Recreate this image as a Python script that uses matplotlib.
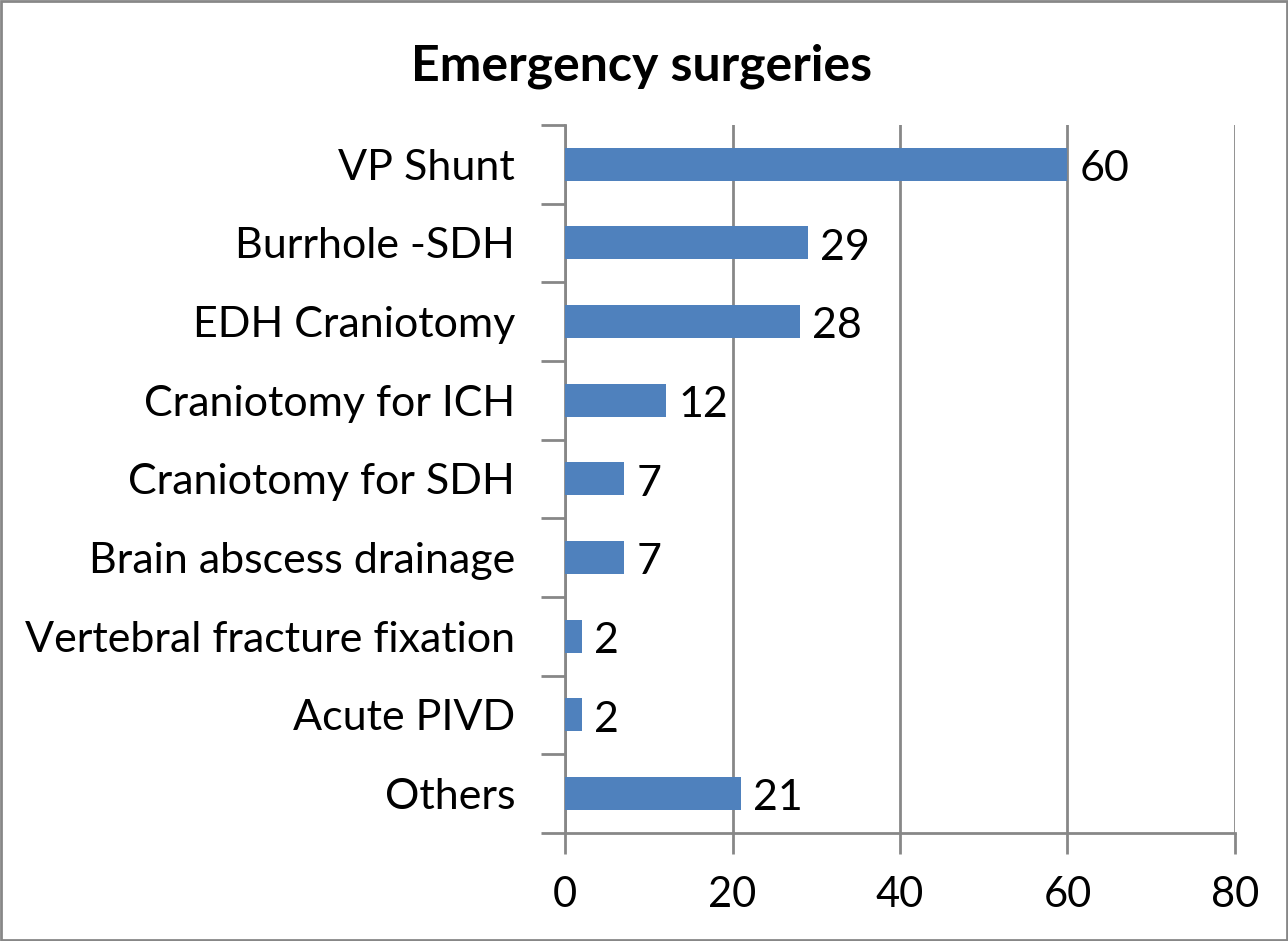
import matplotlib.pyplot as plt
from matplotlib.patches import Rectangle

# data
categories = ['VP Shunt', 'Burrhole -SDH', 'EDH Craniotomy', 'Craniotomy for ICH',
              'Craniotomy for SDH', 'Brain abscess drainage',
              'Vertebral fracture fixation', 'Acute PIVD', 'Others']
counts = [60, 29, 28, 12, 7, 7, 2, 2, 21]
xticks = [0, 20, 40, 60, 80]

plt.rcParams['font.family'] = ['Lato', 'DejaVu Sans']

fig = plt.figure(figsize=(12.88, 9.41), dpi=100)
ax = fig.add_axes([0.4387, 0.1148, 0.5201, 0.7524])

n = len(categories)
ypos = list(range(n))[::-1]
ax.barh(ypos, counts, height=0.42, color='#4F81BD', zorder=3)
for y, v in zip(ypos, counts):
    ax.text(v + 1.5, y - 0.06, str(v), va='center', ha='left', fontsize=31, zorder=4)

ax.set_xlim(0, 80)
ax.set_ylim(-0.5, n - 0.5)
ax.set_xticks(xticks)
ax.set_xticklabels([str(t) for t in xticks], fontsize=30)
ax.tick_params(axis='x', length=15, width=2, color='#878787', pad=16)

# category labels centered, tick marks at category boundaries
ax.set_yticks(ypos)
ax.set_yticklabels(categories, fontsize=31)
ax.tick_params(axis='y', length=0, pad=36)
ax.set_yticks([i - 0.5 for i in range(n + 1)], minor=True)
ax.tick_params(axis='y', which='minor', length=17, width=2, color='#878787')

ax.grid(axis='x', color='#878787', linewidth=2, zorder=0)
for s in ['top', 'right']:
    ax.spines[s].set_visible(False)
for s in ['left', 'bottom']:
    ax.spines[s].set_color('#878787')
    ax.spines[s].set_linewidth(2)

fig.text(0.4981, 0.93, 'Emergency surgeries', ha='center', va='center',
         fontsize=36, fontweight='bold')

fig.patches.append(Rectangle((0.001, 0.001), 0.998, 0.998, transform=fig.transFigure,
                             fill=False, edgecolor='#878787', linewidth=2))

fig.savefig('out.png', dpi=100)
